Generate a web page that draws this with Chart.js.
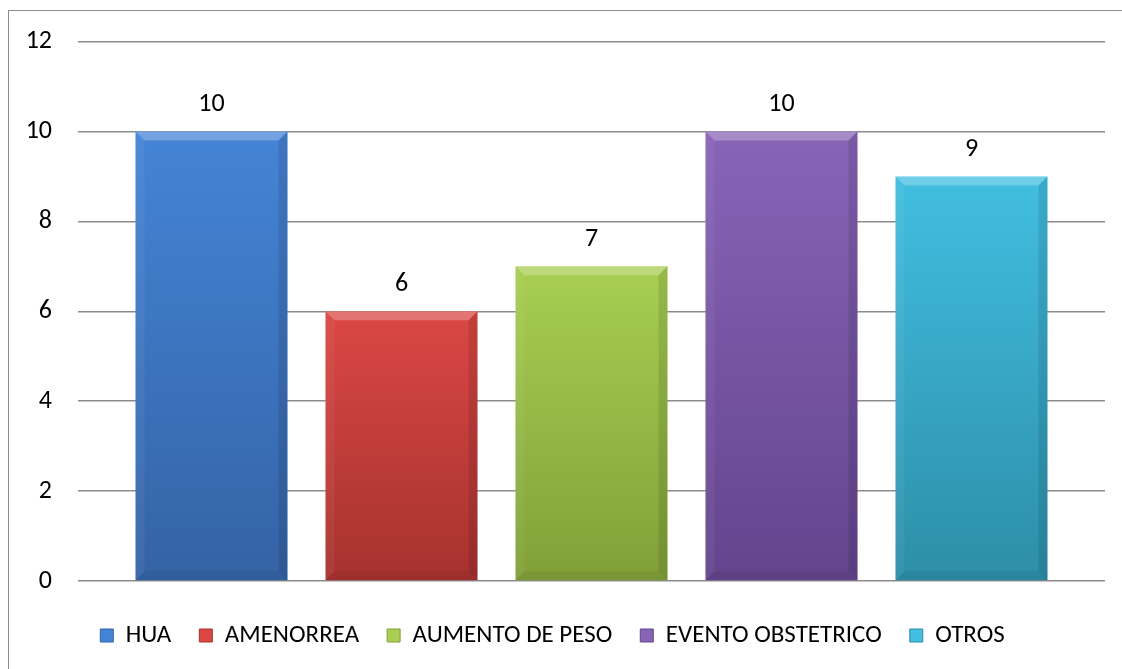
<!DOCTYPE html>
<html>
<head>
<meta charset="utf-8">
<script src="https://cdn.jsdelivr.net/npm/chart.js@4/dist/chart.umd.min.js"></script>
<style>
  html, body { margin: 0; padding: 0; background: #fff; }
  #wrap { position: relative; width: 1122px; height: 669px; overflow: hidden; }
  #frame { position: absolute; left: 8px; top: 10px; width: 1200px; height: 700px; border: 1px solid #8c8c8c; box-sizing: border-box; }
  canvas { position: absolute; left: 0; top: 0; }
</style>
</head>
<body>
<div id="wrap">
  <div id="frame"></div>
  <canvas id="c" width="1122" height="669"></canvas>
</div>
<script>
const categories = [''];
const seriesNames = ['HUA', 'AMENORREA', 'AUMENTO DE PESO', 'EVENTO OBSTETRICO', 'OTROS'];
const seriesValues = [10, 6, 7, 10, 9];
const topColors = ['#4484d6', '#da4744', '#a8ce52', '#8864b7', '#41bee0'];
const bottomColors = ['#3463a5', '#a6322f', '#80a038', '#64448d', '#2d8ea8'];
const yTicks = [0, 2, 4, 6, 8, 10, 12];

const FONT = "Carlito, Calibri, Lato, 'Noto Sans', sans-serif";
const FSIZE = 26;
const LEGEND_FSIZE = 25;

function barGradient(i) {
  return function (ctx) {
    const chart = ctx.chart;
    const y = chart.scales && chart.scales.y;
    if (!y || !chart.chartArea) return topColors[i];
    const top = y.getPixelForValue(seriesValues[i]);
    const bot = y.getPixelForValue(0);
    if (!isFinite(top) || !isFinite(bot) || top === bot) return topColors[i];
    const g = chart.ctx.createLinearGradient(0, top, 0, bot);
    g.addColorStop(0, topColors[i]);
    g.addColorStop(1, bottomColors[i]);
    return g;
  };
}

const datasets = seriesNames.map((name, i) => ({
  label: name,
  data: [seriesValues[i]],
  backgroundColor: barGradient(i),
  borderWidth: 0,
  categoryPercentage: 0.925,
  barPercentage: 0.8
}));

const bevelPlugin = {
  id: 'bevel',
  afterDatasetsDraw(chart) {
    const ctx = chart.ctx;
    chart.data.datasets.forEach((ds, i) => {
      const meta = chart.getDatasetMeta(i);
      meta.data.forEach(el => {
        const p = el.getProps(['x', 'y', 'base', 'width'], true);
        const l = p.x - p.width / 2, r = p.x + p.width / 2, t = p.y, b = p.base;
        const d = 9;
        ctx.save();
        ctx.beginPath();
        ctx.moveTo(l, t); ctx.lineTo(r, t); ctx.lineTo(r - d, t + d); ctx.lineTo(l + d, t + d); ctx.closePath();
        ctx.fillStyle = 'rgba(255,255,255,0.25)';
        ctx.fill();
        ctx.beginPath();
        ctx.moveTo(r, t); ctx.lineTo(r, b); ctx.lineTo(r - d, b - d); ctx.lineTo(r - d, t + d); ctx.closePath();
        ctx.fillStyle = 'rgba(0,0,0,0.10)';
        ctx.fill();
        ctx.beginPath();
        ctx.moveTo(l, b); ctx.lineTo(r, b); ctx.lineTo(r - d, b - d); ctx.lineTo(l + d, b - d); ctx.closePath();
        ctx.fillStyle = 'rgba(0,0,0,0.06)';
        ctx.fill();
        ctx.beginPath();
        ctx.moveTo(l, t); ctx.lineTo(l, b); ctx.lineTo(l + d, b - d); ctx.lineTo(l + d, t + d); ctx.closePath();
        ctx.fillStyle = 'rgba(255,255,255,0.05)';
        ctx.fill();
        ctx.restore();
      });
    });
  }
};

const labelPlugin = {
  id: 'valueLabels',
  afterDatasetsDraw(chart) {
    const ctx = chart.ctx;
    ctx.save();
    ctx.font = FSIZE + 'px ' + FONT;
    ctx.fillStyle = '#000';
    ctx.textAlign = 'center';
    ctx.textBaseline = 'middle';
    chart.data.datasets.forEach((ds, i) => {
      const meta = chart.getDatasetMeta(i);
      meta.data.forEach((el, j) => {
        ctx.fillText(String(ds.data[j]), el.x, el.y - 27);
      });
    });
    ctx.restore();
  }
};

new Chart(document.getElementById('c'), {
  type: 'bar',
  data: { labels: categories, datasets },
  options: {
    responsive: false,
    animation: false,
    devicePixelRatio: 1,
    layout: { padding: { left: 0, right: 17, top: 30, bottom: 11 } },
    scales: {
      x: {
        display: true,
        grid: { display: false, drawTicks: false },
        border: { display: false },
        ticks: { display: false },
        afterFit(scale) { scale.height = 14; }
      },
      y: {
        min: 0,
        max: 12,
        afterBuildTicks(scale) { scale.ticks = yTicks.map(v => ({ value: v })); },
        afterFit(scale) { scale.width = 78; },
        grid: { color: '#8c8c8c', lineWidth: 1.5, drawTicks: false },
        border: { display: false },
        ticks: { padding: 26, color: '#000', font: { family: FONT, size: FSIZE } }
      }
    },
    plugins: {
      tooltip: { enabled: false },
      legend: {
        position: 'bottom',
        labels: {
          color: '#000',
          boxWidth: 13,
          boxHeight: 13,
          padding: 28,
          font: { family: FONT, size: LEGEND_FSIZE },
          generateLabels(chart) {
            return chart.data.datasets.map((ds, i) => ({
              text: ds.label,
              fillStyle: topColors[i],
              strokeStyle: bottomColors[i],
              lineWidth: 1,
              datasetIndex: i,
              hidden: false
            }));
          }
        }
      }
    }
  },
  plugins: [bevelPlugin, labelPlugin]
});
</script>
</body>
</html>
